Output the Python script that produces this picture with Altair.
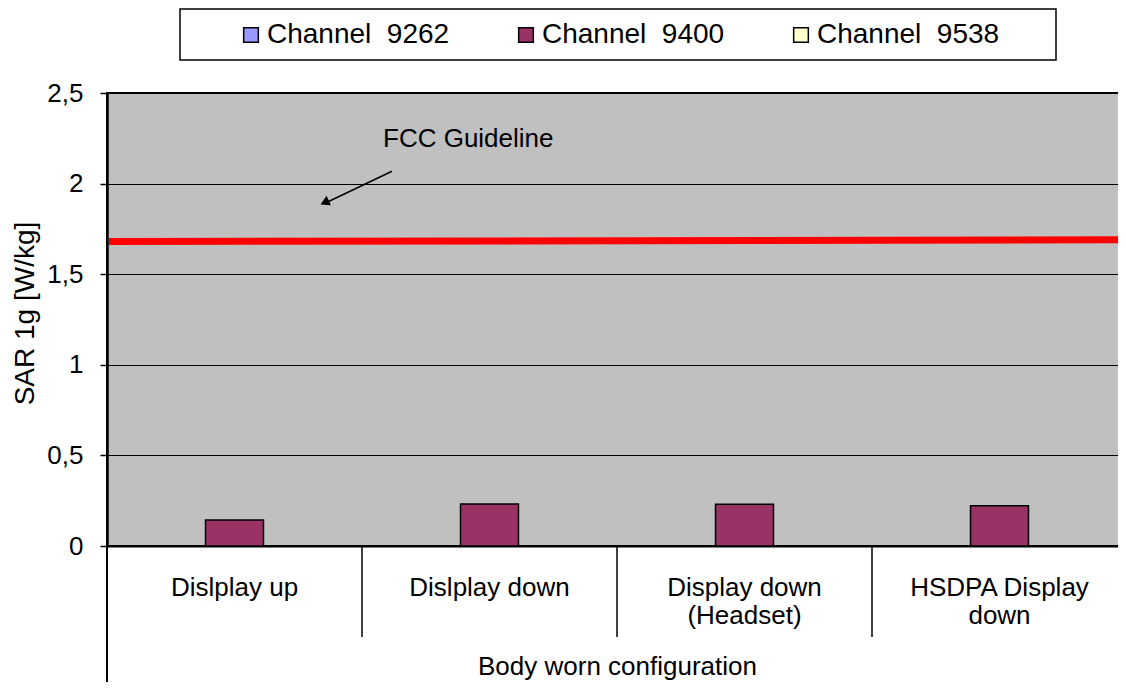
import altair as alt
import pandas as pd

# ---------------- data ----------------
categories = ["Dislplay up", "Dislplay down", "Display down\n(Headset)", "HSDPA Display\ndown"]
channels = ["Channel 9262", "Channel 9400", "Channel 9538"]
sar_9262 = [None, None, None, None]
sar_9400 = [0.143, 0.232, 0.231, 0.222]
sar_9538 = [None, None, None, None]
channel_colors = ["#9999FF", "#993366", "#FFFFCC"]
fcc_line = [1.68, 1.69]          # guideline as drawn (left end, right end)
y_ticks = [0, 0.5, 1, 1.5, 2, 2.5]
x_title = "Body worn configuration"
y_title = "SAR 1g [W/kg]"
fcc_label = "FCC Guideline"
fcc_label_y = 2.2
arrow_start_y = 2.068
arrow_end_y = 1.897

rows = []
for ch, vals in zip(channels, [sar_9262, sar_9400, sar_9538]):
    for cat, v in zip(categories, vals):
        rows.append({"config": cat, "channel": ch, "sar": v})
df = pd.DataFrame(rows)
cat_df = pd.DataFrame({"config": categories})
one = pd.DataFrame({"k": [0]})

W, H = 1020, 453
FONT = "Liberation Sans"

x_scale = alt.Scale(domain=categories, paddingInner=0, paddingOuter=0)
x_axis = alt.Axis(
    title=x_title, labelAngle=0, ticks=False, tickSize=0,
    labelExpr="split(datum.label, '\\n')", labelFontSize=26, labelLineHeight=28,
    labelPadding=28, labelBaseline="top", labelLimit=400,
    domainColor="black", domainWidth=2, grid=False,
    titleFontSize=26, titleY=128, titleBaseline="alphabetic", titleFontWeight="normal",
)
y_scale = alt.Scale(domain=[0, 2.5], nice=False, zero=True)
y_axis = alt.Axis(
    title=y_title, values=y_ticks,
    labelExpr="replace(toString(datum.value), '.', ',')",
    labelFontSize=26, tickSize=7, tickWidth=1.5, labelPadding=17,
    domainColor="black", domainWidth=2.5, gridColor="black", gridWidth=1,
    titleFontSize=28, titleFontWeight="normal", titleX=-82, titleY=220,
    titleAngle=270, titleAlign="center", titleBaseline="middle",
)

box = alt.Chart(one).mark_rect(fill="white", stroke="black", strokeWidth=1.5).encode(
    x=alt.value(73), x2=alt.value(949), y=alt.value(-84), y2=alt.value(-33)
)

bars = alt.Chart(df).transform_filter("isValid(datum.sar)").mark_bar(
    stroke="black", strokeWidth=1.5
).encode(
    x=alt.X("config:N", sort=categories, scale=x_scale, axis=x_axis),
    xOffset=alt.XOffset("channel:N", scale=alt.Scale(domain=channels, paddingInner=0, paddingOuter=0.7)),
    y=alt.Y("sar:Q", scale=y_scale, axis=y_axis),
    fill=alt.Fill(
        "channel:N",
        scale=alt.Scale(domain=channels, range=channel_colors),
        legend=alt.Legend(
            title=None, orient="none", direction="horizontal", legendX=130, legendY=-72,
            symbolType="square", symbolSize=215, symbolStrokeColor="black",
            symbolStrokeWidth=1.5, symbolOpacity=1, labelFontSize=28, labelColor="black",
            labelOffset=2, columnPadding=62, padding=0, labelLimit=400,
            labelExpr="replace(datum.label, ' ', '\u00a0\u00a0')",
        ),
    ),
)

seps = alt.Chart(cat_df).mark_rule(color="black", strokeWidth=1.5).encode(
    x=alt.X("config:N", sort=categories, scale=x_scale, axis=x_axis, bandPosition=0),
    y=alt.value(H), y2=alt.value(H + 91),
)

left_line = alt.Chart(one).mark_rule(color="black", strokeWidth=2).encode(
    x=alt.value(0), y=alt.value(H), y2=alt.value(H + 150)
)

fcc_rule = alt.Chart(one).mark_rule(color="#FF0000", strokeWidth=7).encode(
    x=alt.value(2), x2=alt.value(W + 10),
    y=alt.datum(fcc_line[0]), y2=alt.datum(fcc_line[1]),
)

fcc_text = alt.Chart(one).mark_text(
    align="left", baseline="alphabetic", fontSize=26, color="black", font=FONT
).encode(x=alt.value(276), y=alt.datum(fcc_label_y), text=alt.value(fcc_label))

arrow_line = alt.Chart(one).mark_rule(color="black", strokeWidth=1.5).encode(
    x=alt.value(285), x2=alt.value(220),
    y=alt.datum(arrow_start_y), y2=alt.datum(arrow_end_y),
)

arrow_head = alt.Chart(one).mark_point(
    shape="triangle", filled=True, color="black", opacity=1, size=110, angle=245
).encode(x=alt.value(219), y=alt.datum(1.899))

chart = alt.layer(
    box, bars, seps, left_line, fcc_rule, fcc_text, arrow_line, arrow_head
).properties(
    width=W, height=H,
    padding={"left": 99, "top": 85, "right": -9, "bottom": 136},
    autosize=alt.AutoSizeParams(type="none"),
).configure(
    font=FONT, background="white"
).configure_view(
    fill="#C0C0C0", stroke="black", strokeWidth=2
).configure_axis(
    labelColor="black", titleColor="black", tickColor="black", labelFont=FONT, titleFont=FONT
).configure_legend(
    labelFont=FONT
)

chart.save("out.html", embed_options={"renderer": "svg", "actions": False})
